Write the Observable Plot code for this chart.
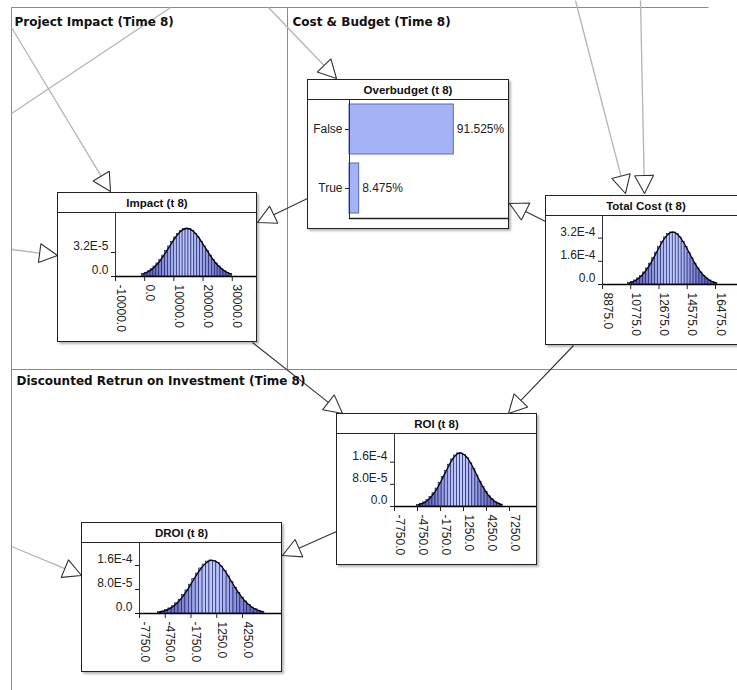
<!DOCTYPE html>
<html><head><meta charset="utf-8">
<script src="https://cdn.jsdelivr.net/npm/d3@7"></script>
<script src="https://cdn.jsdelivr.net/npm/@observablehq/plot@0.6"></script>
<style>
body{margin:0;background:#fff;}
#wrap{position:relative;width:737px;height:690px;overflow:hidden;background:#fff;font-family:"Liberation Sans",Arial,sans-serif;}
#wrap > svg, #wrap > figure{position:absolute;left:0;top:0;margin:0;}
.node{position:absolute;box-sizing:border-box;border:1px solid #222;background:#fff;box-shadow:2px 2px 2px rgba(0,0,0,0.28);}
.node .title{height:19px;border-bottom:1px solid #222;text-align:center;font-weight:bold;font-size:11.5px;line-height:20px;color:#111;white-space:nowrap;}
.node svg{display:block;}
</style></head><body><div id="wrap"></div>
<script>
// ---------------- DATA ----------------
const overbudgetStates = ["False", "True"];
const overbudgetValues = [91.525, 8.475];

const impactBinWidth = 1000;
const impactCenters = [-500,500,1500,2500,3500,4500,5500,6500,7500,8500,9500,10500,11500,12500,13500,14500,15500,16500,17500,18500,19500,20500,21500,22500,23500,24500,25500,26500,27500,28500,29500];
const impactDensity = [0.34e-5,0.50e-5,0.70e-5,0.97e-5,1.33e-5,1.74e-5,2.23e-5,2.78e-5,3.38e-5,4.00e-5,4.61e-5,5.20e-5,5.69e-5,6.07e-5,6.32e-5,6.40e-5,6.32e-5,6.07e-5,5.69e-5,5.20e-5,4.61e-5,4.00e-5,3.38e-5,2.78e-5,2.23e-5,1.74e-5,1.33e-5,0.97e-5,0.70e-5,0.50e-5,0.34e-5];
const impactXTicks = [-10000, 0, 10000, 20000, 30000];
const impactYTicks = [0, 3.2e-5];

const costBinWidth = 200;
const costCenters = [10700,10900,11100,11300,11500,11700,11900,12100,12300,12500,12700,12900,13100,13300,13500,13700,13900,14100,14300,14500,14700,14900,15100,15300,15500,15700,15900,16100,16300,16500];
const costDensity = [0.12e-4,0.18e-4,0.28e-4,0.42e-4,0.60e-4,0.83e-4,1.11e-4,1.44e-4,1.81e-4,2.20e-4,2.59e-4,2.95e-4,3.25e-4,3.47e-4,3.59e-4,3.59e-4,3.47e-4,3.25e-4,2.95e-4,2.59e-4,2.20e-4,1.81e-4,1.44e-4,1.11e-4,0.83e-4,0.60e-4,0.42e-4,0.28e-4,0.18e-4,0.12e-4];
const costXTicks = [8875, 10775, 12675, 14575, 16475];
const costYTicks = [0, 1.6e-4, 3.2e-4];

const roiBinWidth = 400;
const roiCenters = [-4600,-4200,-3800,-3400,-3000,-2600,-2200,-1800,-1400,-1000,-600,-200,200,600,1000,1400,1800,2200,2600,3000,3400,3800,4200,4600,5000,5400,5800,6200];
const roiDensity = [0.06e-4,0.10e-4,0.15e-4,0.23e-4,0.34e-4,0.48e-4,0.65e-4,0.85e-4,1.07e-4,1.29e-4,1.51e-4,1.70e-4,1.84e-4,1.92e-4,1.92e-4,1.86e-4,1.74e-4,1.56e-4,1.35e-4,1.12e-4,0.90e-4,0.70e-4,0.52e-4,0.37e-4,0.26e-4,0.17e-4,0.11e-4,0.07e-4];
const roiXTicks = [-7750, -4750, -1750, 1250, 4250, 7250];
const roiYTicks = [0, 8e-5, 1.6e-4];

const droiBinWidth = 400;
const droiCenters = [-5400,-5000,-4600,-4200,-3800,-3400,-3000,-2600,-2200,-1800,-1400,-1000,-600,-200,200,600,1000,1400,1800,2200,2600,3000,3400,3800,4200,4600,5000,5400,5800,6200,6600];
const droiDensity = [0.05e-4,0.07e-4,0.11e-4,0.17e-4,0.24e-4,0.34e-4,0.46e-4,0.61e-4,0.77e-4,0.96e-4,1.15e-4,1.33e-4,1.50e-4,1.63e-4,1.73e-4,1.77e-4,1.75e-4,1.69e-4,1.57e-4,1.42e-4,1.24e-4,1.05e-4,0.86e-4,0.69e-4,0.53e-4,0.40e-4,0.29e-4,0.20e-4,0.14e-4,0.09e-4,0.06e-4];
const droiXTicks = [-7750, -4750, -1750, 1250, 4250];
const droiYTicks = [0, 8e-5, 1.6e-4];

const regionTitles = ["Project Impact (Time 8)", "Cost & Budget (Time 8)", "Discounted Retrun on Investment (Time 8)"];
const nodeTitles = ["Overbudget (t 8)", "Impact (t 8)", "Total Cost (t 8)", "ROI (t 8)", "DROI (t 8)"];

// ---------------- LAYOUT ----------------
const regionTitlePos = [{x:14, y:22}, {x:292, y:22}, {x:16, y:381}];
const borders = [
  {x1:11, y1:7, x2:708, y2:7},
  {x1:11, y1:7, x2:11, y2:690},
  {x1:287, y1:7, x2:287, y2:369},
  {x1:11, y1:369, x2:737, y2:369}
];
const arrows = [
  {x1:11, y1:27, x2:110, y2:191, gray:true, head:true},
  {x1:11, y1:249, x2:57, y2:255, gray:true, head:true},
  {x1:307, y1:198, x2:257, y2:222, gray:false, head:true},
  {x1:545, y1:221, x2:509, y2:203, gray:false, head:true},
  {x1:268, y1:7, x2:336, y2:78, gray:true, head:true},
  {x1:575, y1:0, x2:625, y2:193, gray:true, head:true},
  {x1:640, y1:0, x2:644, y2:193, gray:true, head:true},
  {x1:252, y1:342, x2:342, y2:413, gray:false, head:true},
  {x1:573, y1:345, x2:508, y2:413, gray:false, head:true},
  {x1:336, y1:531, x2:282, y2:555, gray:false, head:true},
  {x1:11, y1:546, x2:81, y2:575, gray:true, head:true},
  {x1:170, y1:7, x2:11, y2:113, gray:true, head:false}
];
const nodeBoxes = [
  {x:307, y:79, w:202, h:150},
  {x:57, y:192, w:200, h:150},
  {x:545, y:195, w:202, h:150},
  {x:336, y:413, w:201, h:152},
  {x:81, y:522, w:201, h:150}
];

const wrap = document.getElementById("wrap");
const chartFont = '"Liberation Sans", Arial, sans-serif';

// ---------------- BACKGROUND ----------------
const heads = [];
const lines = arrows.map((a, i) => {
  if (!a.head) return {...a, ex:a.x2, ey:a.y2};
  const dx = a.x2 - a.x1, dy = a.y2 - a.y1, len = Math.hypot(dx, dy);
  const ux = dx/len, uy = dy/len, L = 18, W = 19;
  const bx = a.x2 - L*ux, by = a.y2 - L*uy, px = -uy, py = ux;
  const pts = [[a.x2, a.y2], [bx + px*W/2, by + py*W/2], [bx - px*W/2, by - py*W/2], [a.x2, a.y2]];
  pts.forEach(p => heads.push({id:i, x:p[0], y:p[1]}));
  return {...a, ex:bx, ey:by};
});
const titleRows = regionTitles.map((t, i) => ({text:t, ...regionTitlePos[i]}));

const bg = Plot.plot({
  width:737, height:690, margin:0,
  x:{domain:[0,737], range:[0,737], axis:null},
  y:{domain:[0,690], range:[0,690], axis:null},
  style:{background:"transparent"},
  marks:[
    Plot.link(borders, {x1:"x1", y1:"y1", x2:"x2", y2:"y2", stroke:"#8a8a8a", strokeWidth:1}),
    Plot.link(lines.filter(d => d.gray), {x1:"x1", y1:"y1", x2:"ex", y2:"ey", stroke:"#b4b4b4", strokeWidth:1.3}),
    Plot.link(lines.filter(d => !d.gray), {x1:"x1", y1:"y1", x2:"ex", y2:"ey", stroke:"#333", strokeWidth:1.1}),
    Plot.line(heads, {x:"x", y:"y", z:"id", fill:"white", stroke:"#333", strokeWidth:1.1, strokeLinejoin:"miter", curve:"linear"}),
    Plot.text(titleRows, {x:"x", y:"y", text:"text", textAnchor:"start", fontWeight:"bold", fontSize:12, fontFamily:"DejaVu Sans", fill:"#111"})
  ]
});
wrap.append(bg);

// ---------------- NODES ----------------
function addNode(box, title, chart) {
  const div = document.createElement("div");
  div.className = "node";
  Object.assign(div.style, {left:box.x+"px", top:box.y+"px", width:box.w+"px", height:box.h+"px"});
  const t = document.createElement("div");
  t.className = "title"; t.textContent = title;
  div.append(t, chart);
  wrap.append(div);
}
const fmtY = d => d === 0 ? "0.0" : d.toExponential(1).toUpperCase();

function histChart(box, {centers, values, binWidth, xDomain, yDomain, xTicks, yTicks, marginLeft, marginBottom}) {
  const rows = centers.map((c, i) => ({x1:c - binWidth/2, x2:c + binWidth/2, c, v:values[i]}));
  return Plot.plot({
    width:box.w - 2, height:box.h - 22,
    marginLeft, marginRight:0, marginTop:0, marginBottom,
    x:{domain:xDomain, axis:null}, y:{domain:yDomain, axis:null},
    color:{type:"linear", domain:[0, d3.max(values)], range:["#5c60b8", "#bccaff"]},
    style:{fontFamily:chartFont, fontSize:"12px", color:"#222", background:"transparent", overflow:"visible"},
    marks:[
      Plot.rectY(rows, {x1:"x1", x2:"x2", y:"v", fill:"v", stroke:"#16165c", strokeWidth:0.6}),
      Plot.line(rows, {x:"c", y:"v", curve:"natural", stroke:"#000", strokeWidth:1.3}),
      Plot.ruleY([0], {stroke:"#000", strokeWidth:1.7}),
      Plot.frame({anchor:"left", stroke:"#333"}),
      Plot.axisY({ticks:yTicks, tickSize:4, tickFormat:() => "", label:null}),
      Plot.text(yTicks, {x:xDomain[0], y:d => d, text:fmtY, textAnchor:"end", dx:-7, dy:-6, fill:"#222"}),
      Plot.axisX({ticks:xTicks, tickSize:5, tickFormat:() => "", label:null}),
      Plot.text(xTicks, {x:d => d, y:0, text:d => d.toFixed(1), rotate:90, textAnchor:"start", lineAnchor:"middle", dy:8, dx:5, fill:"#222"})
    ]
  });
}

// Overbudget
{
  const box = nodeBoxes[0];
  const rows = overbudgetStates.map((s, i) => ({s, v:overbudgetValues[i]}));
  const chart = Plot.plot({
    width:box.w - 2, height:box.h - 22,
    marginLeft:41, marginRight:0, marginTop:0, marginBottom:10,
    x:{domain:[0, 139.5], axis:null},
    y:{domain:overbudgetStates, paddingInner:0.15, paddingOuter:0.07, axis:null},
    style:{fontFamily:chartFont, fontSize:"12px", color:"#222", background:"transparent", overflow:"visible"},
    marks:[
      Plot.barX(rows, {x:"v", y:"s", fill:"#a4b2f6", stroke:"#5a68c0"}),
      Plot.text(rows, {x:"v", y:"s", text:d => d.v.toFixed(3) + "%", textAnchor:"start", dx:3, fill:"#222"}),
      Plot.frame({anchor:"left", stroke:"#333"}),
      Plot.frame({anchor:"bottom", stroke:"#222", strokeWidth:1.3}),
      Plot.axisY({tickSize:4, tickPadding:3, label:null})
    ]
  });
  addNode(box, nodeTitles[0], chart);
}

addNode(nodeBoxes[1], nodeTitles[1], histChart(nodeBoxes[1], {
  centers:impactCenters, values:impactDensity, binWidth:impactBinWidth,
  xDomain:[-10000, 38300], yDomain:[0, 8.4e-5], xTicks:impactXTicks, yTicks:impactYTicks,
  marginLeft:57, marginBottom:65
}));
addNode(nodeBoxes[2], nodeTitles[2], histChart(nodeBoxes[2], {
  centers:costCenters, values:costDensity, binWidth:costBinWidth,
  xDomain:[8875, 18560], yDomain:[0, 4.69e-4], xTicks:costXTicks, yTicks:costYTicks,
  marginLeft:56, marginBottom:60
}));
addNode(nodeBoxes[3], nodeTitles[3], histChart(nodeBoxes[3], {
  centers:roiCenters, values:roiDensity, binWidth:roiBinWidth,
  xDomain:[-7750, 10770], yDomain:[0, 2.6e-4], xTicks:roiXTicks, yTicks:roiYTicks,
  marginLeft:57, marginBottom:58
}));
addNode(nodeBoxes[4], nodeTitles[4], histChart(nodeBoxes[4], {
  centers:droiCenters, values:droiDensity, binWidth:droiBinWidth,
  xDomain:[-7750, 8793], yDomain:[0, 2.333e-4], xTicks:droiXTicks, yTicks:droiYTicks,
  marginLeft:57, marginBottom:58
}));
</script></body></html>
